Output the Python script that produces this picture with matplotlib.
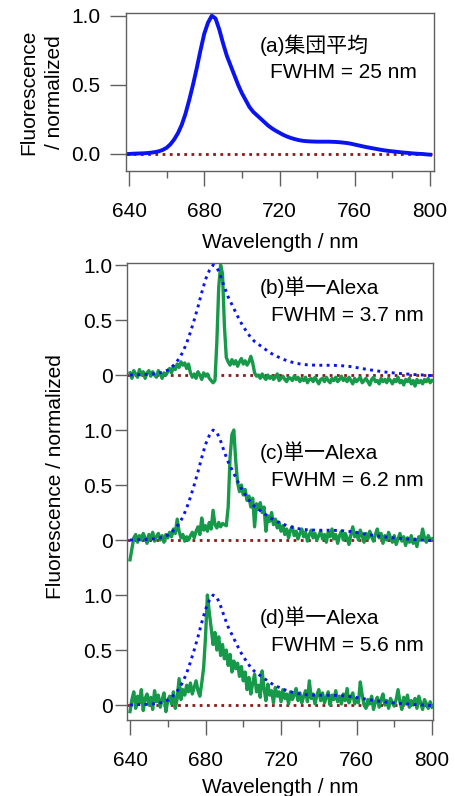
import numpy as np
import matplotlib
matplotlib.use('Agg')
import matplotlib.pyplot as plt
from matplotlib.ticker import MultipleLocator

# wavelength grids (nm)
wl_avg = np.arange(640, 801, 2)
wl_single = np.arange(640, 801, 1)

# ensemble-averaged spectrum, normalized
avg_spectrum = [
    0.000, 0.002, 0.003, 0.004, 0.005, 0.007, 0.010, 0.014, 0.020, 0.030,
    0.045, 0.070, 0.105, 0.150, 0.210, 0.290, 0.390, 0.500, 0.620, 0.750,
    0.870, 0.950, 1.000, 0.980, 0.900, 0.800, 0.710, 0.640, 0.570, 0.500,
    0.440, 0.390, 0.340, 0.305, 0.280, 0.255, 0.230, 0.205, 0.185, 0.168,
    0.153, 0.138, 0.126, 0.116, 0.108, 0.101, 0.096, 0.093, 0.091, 0.090,
    0.089, 0.089, 0.089, 0.089, 0.088, 0.087, 0.085, 0.082, 0.079, 0.074,
    0.068, 0.062, 0.056, 0.050, 0.045, 0.040, 0.035, 0.030, 0.026, 0.022,
    0.019, 0.016, 0.013, 0.010, 0.008, 0.005, 0.003, 0.001, 0.000, -0.003,
    -0.005,
]

# single-molecule spectra (b), (c), (d)
single_b = [
    0.02, -0.03, 0.04, 0.01, -0.02, 0.05, 0.00, 0.03, -0.03, 0.02,
    0.04, -0.01, 0.03, 0.00, -0.02, 0.04, 0.01, -0.03, 0.02, 0.00,
    0.03, 0.06, 0.02, 0.08, 0.05, 0.10, 0.07, 0.12, 0.09, 0.11,
    0.06, 0.10,
    0.02, -0.02, 0.01, -0.03, 0.03, 0.00, -0.04, 0.02, -0.01, 0.01,
    -0.03, -0.05, -0.07,
    -0.05, 0.30, 0.80, 1.00, 0.92, 0.45, 0.16,
    0.12, 0.09, 0.14, 0.10, 0.13, 0.08, 0.12, 0.15, 0.10, 0.13,
    0.09, 0.12, 0.17, 0.11,
    0.02, -0.01, 0.00, -0.03, 0.01, -0.02, -0.04, 0.00, -0.03, -0.01,
    -0.04, -0.02, 0.01, -0.05, -0.03, -0.01, -0.04, -0.06, -0.02, -0.03,
    -0.05, -0.01, -0.04, -0.02, -0.06, -0.03, -0.05, -0.02, -0.07, -0.04,
    -0.03, -0.06, -0.02, -0.05, -0.08, -0.04, -0.03, -0.06, -0.02, -0.05,
    -0.07, -0.03, -0.05, -0.02, -0.06, -0.04, -0.01, -0.05, -0.03, -0.06,
    -0.02, -0.05, -0.08, -0.03, -0.06, -0.04, -0.02, -0.07, -0.05, -0.03,
    -0.06, -0.09, -0.04, -0.02, -0.06, -0.05, -0.08, -0.03, -0.06, -0.04,
    -0.07, -0.03, -0.05, -0.08, -0.04, -0.06, -0.02, -0.07, -0.05, -0.09,
    -0.04, -0.06, -0.03, -0.08, -0.05, -0.10, -0.04, -0.07, -0.05, -0.08,
    -0.04, -0.06, -0.03, -0.07, -0.05,
]

single_c = [
    -0.18, -0.08, 0.02, 0.05, -0.02, 0.04, 0.00, 0.06, 0.02, -0.03,
    0.05, 0.01, 0.07, -0.01, 0.03, 0.06, 0.00, 0.04, -0.02, 0.05,
    0.02, 0.07, 0.03, 0.10, 0.06, 0.19, 0.08, 0.02, 0.05, -0.01,
    0.03, 0.00, 0.04, 0.07, 0.02, 0.08, 0.12, 0.05, 0.20, 0.09,
    0.13, 0.08, 0.16, 0.10, 0.27, 0.14, 0.11, 0.16, 0.12, 0.15,
    0.14, 0.13, 0.30, 0.75, 0.96, 1.00, 0.72, 0.52, 0.44, 0.50,
    0.41, 0.46, 0.36, 0.40, 0.30, 0.38, 0.12, 0.33, 0.28, 0.34,
    0.25, 0.30, 0.08, 0.22, 0.17, 0.25, 0.14, 0.19, 0.11, 0.16,
    0.08, 0.13, 0.05, 0.10, 0.02, 0.09, 0.12, 0.04, 0.08, 0.01,
    0.06, 0.10, 0.03, 0.07, -0.01, 0.05, 0.09, 0.02, 0.06, 0.00,
    0.04, 0.08, 0.01, 0.05, -0.02, 0.07, 0.03, 0.10, 0.01, 0.05,
    -0.03, 0.04, 0.08, 0.00, 0.06, 0.02, -0.04, 0.05, 0.12, 0.03,
    0.07, 0.00, 0.09, 0.04, -0.02, 0.06, 0.01, 0.08, 0.03, -0.01,
    0.05, 0.10, 0.02, 0.06, -0.03, 0.04, 0.00, 0.07, 0.02, -0.02,
    0.04, -0.04, 0.01, 0.06, -0.01, 0.03, -0.05, 0.02, -0.02, 0.04,
    -0.03, 0.01, -0.06, 0.03, 0.00, 0.10, 0.02, -0.02, 0.04, 0.00,
    0.01,
]

single_d = [
    -0.06, 0.05, 0.12, -0.03, 0.08, 0.02, 0.14, -0.05, 0.06, 0.10,
    0.00, 0.07, -0.04, 0.13, 0.03, 0.09, -0.02, 0.05, 0.11, -0.06,
    0.04, 0.08, 0.01, 0.12, -0.03, 0.06, 0.24, 0.05, 0.14, 0.09,
    0.18, 0.12, 0.20, 0.10, 0.16, 0.22, 0.13, 0.08, 0.20, 0.34,
    0.62, 1.00, 0.84, 0.70, 0.55, 0.66, 0.50, 0.62, 0.45, 0.55,
    0.42, 0.50, 0.36, 0.46, 0.30, 0.40, 0.33, 0.38, 0.26, 0.35,
    0.22, 0.30, 0.14, 0.25, 0.10, 0.20, 0.28, 0.12, 0.18, 0.07,
    0.31, 0.15, 0.04, 0.19, 0.09, 0.13, 0.02, 0.16, 0.08, 0.12,
    0.03, 0.14, 0.06, 0.10, 0.01, 0.12, 0.05, 0.09, 0.15, 0.04,
    0.11, 0.02, 0.08, 0.13, 0.03, 0.22, 0.06, 0.10, 0.01, 0.09,
    0.14, 0.04, 0.11, 0.02, 0.07, 0.12, 0.00, 0.09, 0.05, 0.13,
    0.03, 0.08, 0.01, 0.10, 0.04, 0.15, 0.02, 0.07, 0.11, 0.01,
    0.06, 0.02, 0.21, 0.09, 0.00, -0.03, 0.05, 0.01, 0.08, -0.04,
    0.03, 0.07, -0.02, 0.05, 0.10, 0.00, 0.04, -0.03, 0.06, 0.02,
    -0.01, 0.05, 0.14, 0.03, -0.04, 0.07, 0.01, 0.09, -0.02, 0.04,
    0.00, 0.06, -0.03, 0.08, 0.02, -0.04, 0.05, 0.01, -0.03, 0.03,
    -0.02,
]

panel_labels = ['(b)単一Alexa', '(c)単一Alexa', '(d)単一Alexa']
panel_fwhm = ['FWHM = 3.7 nm', 'FWHM = 6.2 nm', 'FWHM = 5.6 nm']

BLUE = '#0a14f0'
GREEN = '#17994a'
ZERO = '#8b1a1a'
FRAME = '#606060'


def style_axes(ax, ylen, ypad):
    for sp in ax.spines.values():
        sp.set_color(FRAME)
        sp.set_linewidth(1.0)
    ax.xaxis.set_major_locator(MultipleLocator(40))
    ax.xaxis.set_minor_locator(MultipleLocator(20))
    ax.tick_params(axis='x', which='major', direction='out', length=11,
                   width=1.0, color=FRAME, labelsize=15, pad=11)
    ax.tick_params(axis='x', which='minor', direction='out', length=5,
                   width=1.0, color=FRAME)
    ax.tick_params(axis='y', which='major', direction='out', length=ylen,
                   width=1.0, color=FRAME, labelsize=15, pad=ypad)
    ax.tick_params(top=False, right=False)


def main():
    plt.rcParams['font.family'] = ['Liberation Sans', 'Noto Sans CJK JP']
    fig = plt.figure(figsize=(4.56, 7.96), dpi=100)

    # (a) ensemble average
    ax_a = fig.add_axes([0.2763, 0.7852, 0.6754, 0.1985])
    ax_a.axhline(0, color=ZERO, linestyle=(0, (1, 1.6)), linewidth=2.0)
    ax_a.plot(wl_avg, avg_spectrum, color=BLUE, linewidth=2.8)
    ax_a.set_xlim(638.4, 802.1)
    ax_a.set_ylim(-0.123, 1.02)
    ax_a.set_yticks([0, 0.5, 1.0])
    ax_a.set_yticklabels(['0.0', '0.5', '1.0'])
    style_axes(ax_a, ylen=11.5, ypad=7)
    ax_a.set_xlabel('Wavelength / nm', fontsize=15, va='top')
    ax_a.xaxis.set_label_coords(0.5, -0.39)
    ax_a.set_ylabel('Fluorescence\n/ normalized', fontsize=15, linespacing=1.45)
    ax_a.yaxis.set_label_coords(-0.20, 0.5)
    ax_a.text(709.6, 0.79, '(a)集団平均', fontsize=15, va='center', ha='left')
    ax_a.text(715.0, 0.587, 'FWHM = 25 nm', fontsize=15, va='center', ha='left')

    # (b)-(d) single molecules, stacked with offsets
    ax = fig.add_axes([0.2785, 0.0955, 0.671, 0.574])
    offsets = [3.0, 1.5, 0.0]
    for spec, off, lab, fw in zip([single_b, single_c, single_d], offsets,
                                  panel_labels, panel_fwhm):
        ax.axhline(off, color=ZERO, linestyle=(0, (1, 1.6)), linewidth=2.0,
                   zorder=1)
        ax.plot(wl_single, np.array(spec) + off, color=GREEN, linewidth=2.4,
                zorder=2)
        ax.plot(wl_avg, np.array(avg_spectrum) + off, color=BLUE,
                linestyle=(0, (1, 1.5)), linewidth=2.1, zorder=3)
        ax.text(708.9, off + 0.80, lab, fontsize=15, va='center', ha='left')
        ax.text(714.7, off + 0.545, fw, fontsize=15, va='center', ha='left')
    ax.set_xlim(638.4, 800.5)
    ax.set_ylim(-0.136, 4.018)
    ticks = []
    labels = []
    for off in offsets[::-1]:
        ticks += [off, off + 0.5, off + 1.0]
        labels += ['0', '0.5', '1.0']
    ax.set_yticks(ticks)
    ax.set_yticklabels(labels)
    style_axes(ax, ylen=8.5, ypad=2)
    ax.set_xlabel('Wavelength / nm', fontsize=15, va='top')
    ax.xaxis.set_label_coords(0.5, -0.128)
    ax.set_ylabel('Fluorescence / normalized', fontsize=15)
    ax.yaxis.set_label_coords(-0.203, 0.532)

    fig.savefig('out.png', dpi=100)


if __name__ == '__main__':
    main()
